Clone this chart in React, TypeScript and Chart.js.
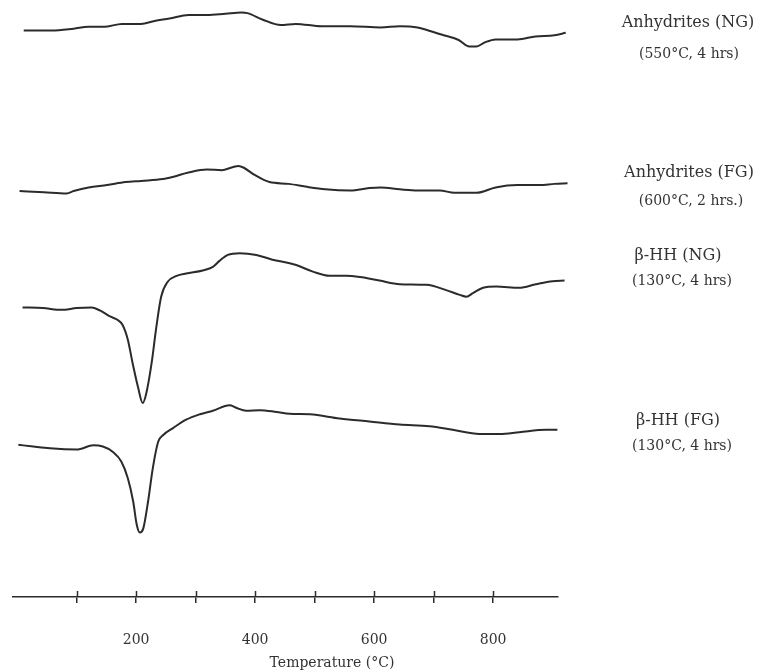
import React, { useEffect, useRef } from 'react';
import { Chart, registerables } from 'chart.js';

Chart.register(...registerables);

// Temperature axis
const temperatureTicks = [100, 200, 300, 400, 500, 600, 700, 800];
const labeledTicks = [200, 400, 600, 800];
const axisTitle = 'Temperature (°C)';

// Series names and treatment conditions
const seriesNames = ['Anhydrites (NG)', 'Anhydrites (FG)', 'β-HH (NG)', 'β-HH (FG)'];
const seriesConditions = ['(550°C, 4 hrs)', '(600°C, 2 hrs.)', '(130°C, 4 hrs)', '(130°C, 4 hrs)'];

// Anhydrites (NG) — temperature (°C) and DTA signal (arbitrary units, stacked)
const anhNGTemp = [11, 58, 95, 120, 146, 176, 208, 231, 256, 288, 319, 350, 377, 387, 413, 443, 468, 512, 560, 611, 643, 673, 691, 717, 742, 760, 772, 786, 804, 841, 871, 903, 922];
const anhNGSignal = [94.9, 94.9, 95.2, 95.5, 95.5, 96.0, 96.0, 96.5, 96.9, 97.5, 97.5, 97.7, 97.9, 97.8, 96.7, 95.8, 96.0, 95.6, 95.6, 95.4, 95.6, 95.4, 94.9, 94.1, 93.3, 92.2, 92.2, 92.9, 93.4, 93.4, 93.9, 94.1, 94.5];

// Anhydrites (FG)
const anhFGTemp = [4, 45, 83, 95, 120, 151, 182, 208, 245, 263, 288, 319, 344, 362, 372, 381, 399, 424, 456, 487, 518, 560, 592, 611, 643, 673, 710, 735, 772, 804, 841, 878, 903, 925];
const anhFGSignal = [68.0, 67.8, 67.6, 68.0, 68.6, 69.0, 69.5, 69.7, 70.0, 70.4, 71.1, 71.6, 71.5, 72.0, 72.2, 71.9, 70.7, 69.5, 69.2, 68.7, 68.3, 68.1, 68.5, 68.6, 68.3, 68.1, 68.1, 67.7, 67.7, 68.6, 69.0, 69.0, 69.2, 69.3];

// β-HH (NG)
const hhNGTemp = [9, 43, 75, 100, 125, 139, 156, 169, 177, 186, 194, 203, 211, 217, 226, 234, 242, 253, 268, 284, 312, 329, 340, 354, 374, 402, 429, 458, 469, 497, 525, 553, 576, 609, 643, 688, 721, 744, 755, 766, 783, 805, 844, 872, 900, 920];
const hhNGSignal = [48.5, 48.4, 48.1, 48.4, 48.5, 48.0, 47.0, 46.4, 45.6, 43.1, 39.2, 35.2, 32.5, 34.1, 39.2, 45.3, 50.3, 52.8, 53.8, 54.2, 54.7, 55.3, 56.3, 57.3, 57.6, 57.3, 56.5, 55.9, 55.6, 54.5, 53.8, 53.8, 53.6, 53.0, 52.4, 52.3, 51.4, 50.6, 50.3, 50.9, 51.8, 52.0, 51.8, 52.4, 52.9, 53.0];

// β-HH (FG)
const hhFGTemp = [2, 27, 55, 100, 128, 144, 161, 175, 186, 195, 201, 206, 212, 220, 228, 237, 245, 262, 284, 307, 329, 357, 368, 385, 408, 436, 458, 492, 542, 592, 643, 693, 732, 777, 811, 844, 889, 908];
const hhFGSignal = [25.5, 25.2, 24.9, 24.7, 25.4, 25.2, 24.3, 22.7, 19.9, 16.0, 12.1, 10.8, 11.5, 16.0, 21.6, 26.0, 27.1, 28.3, 29.7, 30.6, 31.2, 32.1, 31.7, 31.2, 31.3, 31.0, 30.7, 30.6, 29.9, 29.4, 28.9, 28.6, 28.0, 27.3, 27.3, 27.6, 28.0, 28.0];

const seriesTemps = [anhNGTemp, anhFGTemp, hhNGTemp, hhFGTemp];
const seriesSignals = [anhNGSignal, anhFGSignal, hhNGSignal, hhFGSignal];

const INK = '#2b2b2b';
const FONT = "'DejaVu Serif', 'Liberation Serif', serif";

// label placement (centre x, centre y) for name and condition lines
const labelPos = [
  { nx: 688, ny: 22, cx: 689, cy: 53 },
  { nx: 689, ny: 172, cx: 691, cy: 200 },
  { nx: 678, ny: 255, cx: 682, cy: 280 },
  { nx: 678, ny: 420, cx: 682, cy: 445 },
];

const crossTicks = {
  id: 'crossTicks',
  afterDraw(chart: any) {
    const sx = chart.scales.x;
    const ctx = chart.ctx;
    const y = chart.chartArea.bottom;
    ctx.save();
    ctx.strokeStyle = INK;
    ctx.lineWidth = 1.5;
    sx.ticks.forEach((t: any) => {
      const px = Math.round(sx.getPixelForValue(t.value)) + 0.5;
      ctx.beginPath();
      ctx.moveTo(px, y - 6);
      ctx.lineTo(px, y);
      ctx.stroke();
    });
    ctx.restore();
  },
};

export default function App() {
  const canvasRef = useRef<HTMLCanvasElement | null>(null);

  useEffect(() => {
    if (!canvasRef.current) return;
    const datasets = seriesNames.map((name, i) => ({
      label: name,
      data: seriesTemps[i].map((t, j) => ({ x: t, y: seriesSignals[i][j] })),
      borderColor: INK,
      borderWidth: 2,
      pointRadius: 0,
      fill: false,
      cubicInterpolationMode: 'monotone' as const,
      clip: false as const,
    }));

    const chart = new Chart(canvasRef.current, {
      type: 'line',
      data: { datasets },
      plugins: [crossTicks],
      options: {
        animation: false,
        responsive: false,
        devicePixelRatio: 1,
        layout: { padding: { left: 13, right: 206, top: 0, bottom: 0 } },
        plugins: {
          legend: { display: false },
          tooltip: { enabled: false },
        },
        scales: {
          x: {
            type: 'linear',
            min: -7,
            max: 909,
            afterBuildTicks: (scale: any) => {
              scale.ticks = temperatureTicks.map((v) => ({ value: v }));
            },
            afterFit: (scale: any) => {
              scale.height = 75;
            },
            grid: {
              display: true,
              drawOnChartArea: false,
              drawTicks: true,
              tickLength: 6,
              color: INK,
              lineWidth: 1.5,
            },
            border: { display: true, color: INK, width: 1.5 },
            ticks: {
              autoSkip: false,
              maxRotation: 0,
              padding: 29,
              color: '#333',
              font: { family: FONT, size: 14 },
              callback: (value: any) => (labeledTicks.includes(Number(value)) ? String(value) : ''),
            },
          },
          y: {
            type: 'linear',
            display: false,
            min: 0,
            max: 100,
          },
        },
      },
    });
    return () => chart.destroy();
  }, []);

  return (
    <div style={{ position: 'absolute', left: 0, top: 0, width: 764, height: 672, background: '#fff', overflow: 'hidden' }}>
      <canvas ref={canvasRef} width={764} height={672} style={{ display: 'block', width: 764, height: 672 }} />
      {seriesNames.map((name, i) => (
        <React.Fragment key={name}>
          <div
            style={{
              position: 'absolute', left: labelPos[i].nx, top: labelPos[i].ny,
              transform: 'translate(-50%, -50%)', whiteSpace: 'nowrap',
              fontFamily: FONT, fontSize: 16, color: '#333', lineHeight: 1,
            }}
          >
            {name}
          </div>
          <div
            style={{
              position: 'absolute', left: labelPos[i].cx, top: labelPos[i].cy,
              transform: 'translate(-50%, -50%)', whiteSpace: 'nowrap',
              fontFamily: FONT, fontSize: 14, color: '#333', lineHeight: 1,
            }}
          >
            {seriesConditions[i]}
          </div>
        </React.Fragment>
      ))}
      <div
        style={{
          position: 'absolute', left: 332, top: 662,
          transform: 'translate(-50%, -50%)', whiteSpace: 'nowrap',
          fontFamily: FONT, fontSize: 14, color: '#333', lineHeight: 1,
        }}
      >
        {axisTitle}
      </div>
    </div>
  );
}
